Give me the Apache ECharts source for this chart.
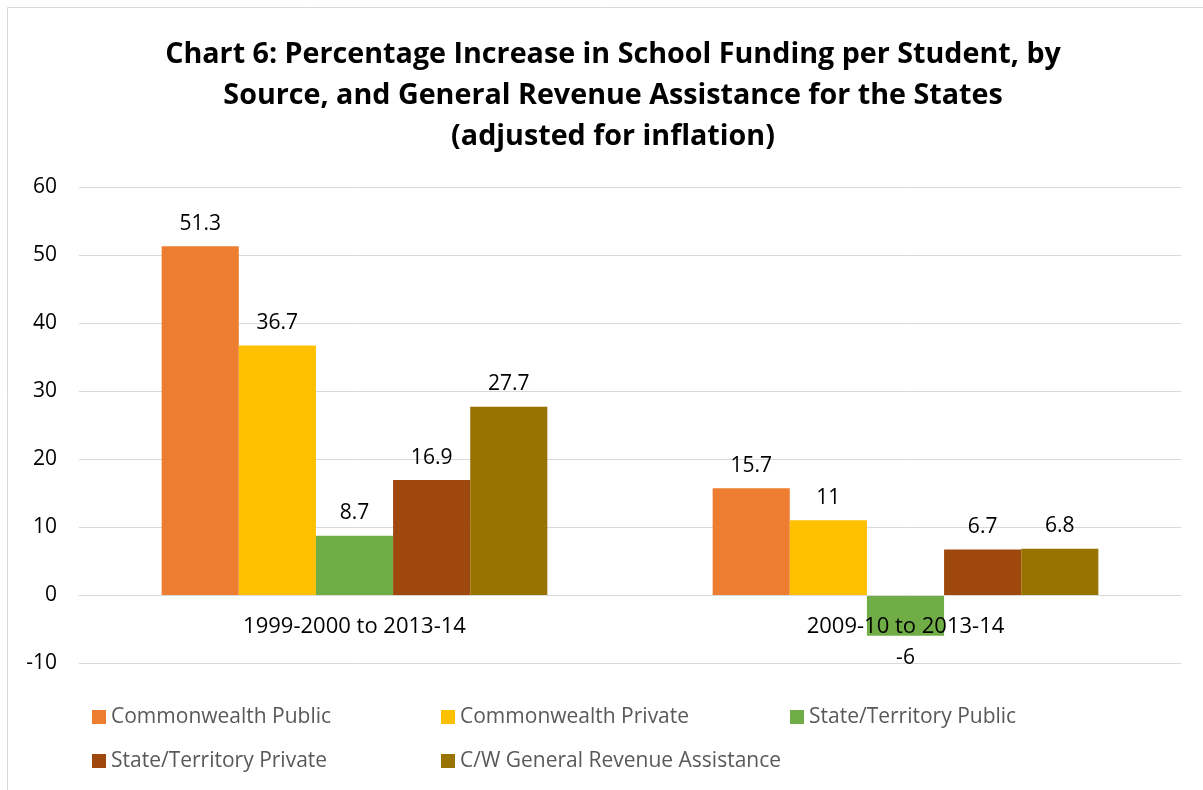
<!DOCTYPE html>
<html>
<head>
<meta charset="utf-8">
<script src="https://cdn.jsdelivr.net/npm/echarts@6/dist/echarts.min.js"></script>
<style>
  html, body { margin: 0; padding: 0; background: #fff; }
  #chart { width: 1203px; height: 790px; }
</style>
</head>
<body>
<div id="chart"></div>
<script>
// Periods compared
const categories = ['1999-2000 to 2013-14', '2009-10 to 2013-14'];

// Percentage increase per student, adjusted for inflation
const commonwealthPublic = [51.3, 15.7];
const commonwealthPrivate = [36.7, 11];
const stateTerritoryPublic = [8.7, -6];
const stateTerritoryPrivate = [16.9, 6.7];
const cwGeneralRevenue = [27.7, 6.8];

const seriesNames = [
  'Commonwealth Public',
  'Commonwealth Private',
  'State/Territory Public',
  'State/Territory Private',
  'C/W General Revenue Assistance'
];
const seriesValues = [
  commonwealthPublic,
  commonwealthPrivate,
  stateTerritoryPublic,
  stateTerritoryPrivate,
  cwGeneralRevenue
];
const colors = ['#ED7D31', '#FFC000', '#70AD47', '#9E480E', '#997300'];

const yTicks = { min: -10, max: 60, interval: 10 };

const FONT = '"Open Sans", "Noto Sans", sans-serif';
const LABEL_SIZE = 21;

// Plot area
const GRID = { left: 79, right: 22, top: 187, bottom: 127 };
const plotHeight = 790 - GRID.top - GRID.bottom;
// Lift the category axis from the bottom of the plot up to the zero line
const zeroOffset = -plotHeight * (0 - yTicks.min) / (yTicks.max - yTicks.min);

const chart = echarts.init(document.getElementById('chart'), null, { renderer: 'canvas' });

const series = seriesNames.map((name, i) => ({
  name,
  type: 'bar',
  data: seriesValues[i].map(v => ({
    value: v,
    label: { position: v < 0 ? 'bottom' : 'top' }
  })),
  barGap: '0%',
  barCategoryGap: '30%',
  itemStyle: { color: colors[i] },
  label: {
    show: true,
    distance: 12,
    color: '#000',
    fontSize: LABEL_SIZE,
    fontFamily: FONT
  }
}));

chart.setOption({
  animation: false,
  backgroundColor: '#fff',
  color: colors,
  title: {
    text: 'Chart 6: Percentage Increase in School Funding per Student, by\nSource, and General Revenue Assistance for the States\n(adjusted for inflation)',
    left: 608,
    textAlign: 'center',
    top: 29,
    textStyle: {
      fontFamily: FONT,
      fontWeight: 'bold',
      fontSize: 28.7,
      lineHeight: 41,
      color: '#000'
    }
  },
  graphic: [{
    type: 'rect',
    shape: { x: 7.5, y: 7.5, width: 1300, height: 900 },
    style: { fill: 'none', stroke: '#d9d9d9', lineWidth: 1 },
    silent: true,
    z: -1
  }],
  grid: { left: GRID.left, right: GRID.right, top: GRID.top, bottom: GRID.bottom, containLabel: false },
  legend: {
    left: 87,
    top: 690,
    width: 1100,
    itemGap: 0,
    itemWidth: 14,
    itemHeight: 14,
    icon: 'rect',
    data: seriesNames,
    textStyle: {
      fontFamily: FONT,
      fontSize: 21,
      color: '#595959',
      width: 330,
      lineHeight: 44,
      padding: [0, 0, 0, 0]
    }
  },
  xAxis: {
    type: 'category',
    data: categories,
    position: 'bottom',
    offset: zeroOffset,
    axisLine: { show: true, onZero: false, lineStyle: { color: '#d9d9d9', width: 1 } },
    axisTick: { show: false },
    axisLabel: {
      margin: 21,
      color: '#000',
      fontSize: 22,
      fontFamily: FONT
    },
    z: 5
  },
  yAxis: {
    type: 'value',
    min: yTicks.min,
    max: yTicks.max,
    interval: yTicks.interval,
    axisLine: { show: false },
    axisTick: { show: false },
    splitLine: { lineStyle: { color: '#d9d9d9', width: 1 } },
    axisLabel: {
      margin: 22,
      color: '#000',
      fontSize: LABEL_SIZE,
      fontFamily: FONT
    }
  },
  series
});
</script>
</body>
</html>
